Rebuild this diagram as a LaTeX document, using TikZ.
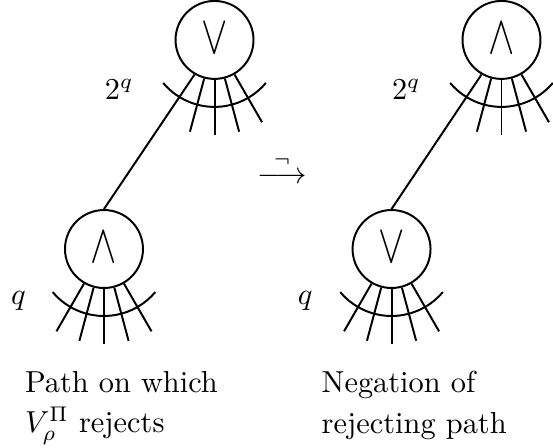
\documentclass[tikz,border=0pt]{standalone}
\usepackage{graphicx}
\usetikzlibrary{positioning}

\begin{document}
\begin{tikzpicture}[line width=0.65pt]
    % Styles
    \tikzstyle{gate} = [circle, draw, line width=0.65pt, minimum size=0.902cm, inner sep=0pt]
    \tikzstyle{wire} = [line width=0.65pt]
    \tikzstyle{lbl} = [inner sep=0pt, anchor=base west]
    \tikzstyle{caption} = [inner sep=0pt, anchor=north west, align=left, font=\fontsize{10pt}{13.2pt}\selectfont]

    \useasboundingbox (0,0) rectangle (6.398,5.183);

    % Gates
    \node (orL) [gate] at (2.482,4.721) {\raisebox{1pt}{\scalebox{1.3}[1.8]{$\vee$}}};
    \node (andL) [gate] at (1.203,2.302) {\raisebox{1pt}{\scalebox{1.3}[1.8]{$\wedge$}}};
    \node (andR) [gate] at (5.802,4.721) {\raisebox{1pt}{\scalebox{1.3}[1.8]{$\wedge$}}};
    \node (orR) [gate] at (4.530,2.302) {\raisebox{1pt}{\scalebox{1.3}[1.8]{$\vee$}}};

    % Fan-in wires and arcs
    \foreach \n in {andL, orR}
        \foreach \a in {240,255,...,300}
            \draw[wire] (\n.\a) -- ++(\a:0.637);
    \foreach \n in {orL, andR}
        \foreach \a in {255,270,...,300}
            \draw[wire] (\n.\a) -- ++(\a:0.637);
    \foreach \n in {orL, andL, andR, orR}
        \draw[wire] ([shift={(220:0.775)}]\n.center) arc[start angle=220, end angle=320, radius=0.775];

    % Edges between gates
    \draw[wire] (orL.240) -- (andL.north);
    \draw[wire] (andR.240) -- (orR.north);

    % Labels
    \node (fanL) [lbl] at (1.203,4.034) {$2^q$};
    \node (fanR) [lbl] at (4.524,4.034) {$2^q$};
    \node (qL) [lbl] at (0.116,1.655) {$q$};
    \node (qR) [lbl] at (3.436,1.655) {$q$};
    \node (neg) [inner sep=0pt, anchor=base] at (3.263,3.063) {$\stackrel{\neg}{\longrightarrow}$};

    % Captions
    \node (capL) [caption] at (0.278,0.896) {Path on which\\$V_\rho^\Pi$ rejects};
    \node (capR) [caption] at (3.711,0.896) {Negation of\\rejecting path};
\end{tikzpicture}
\end{document}
